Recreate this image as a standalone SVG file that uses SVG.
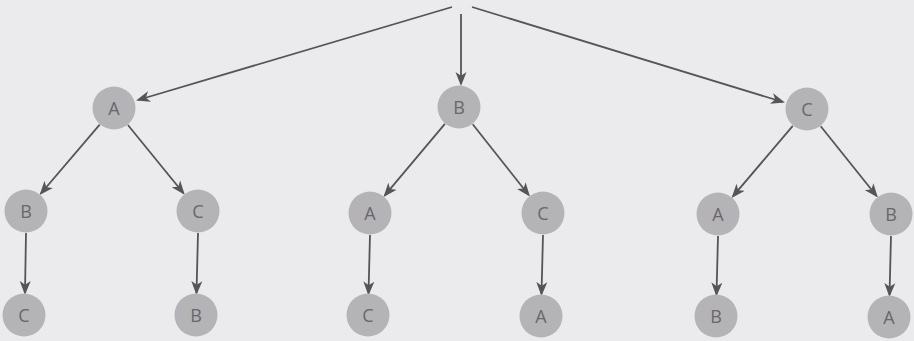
<svg xmlns="http://www.w3.org/2000/svg" width="914" height="341" viewBox="0 0 914 341">
<defs>
<marker id="arr" markerUnits="userSpaceOnUse" markerWidth="14" markerHeight="12" refX="12" refY="5.5" orient="auto" viewBox="0 0 14 11">
<path d="M0,0 L14,5.5 L0,11 L3.8,5.5 z" fill="#555558"/>
</marker>
<style>
.n circle{fill:#b4b4b6;}
.n text{font-family:"Open Sans","Liberation Sans",sans-serif;font-size:18px;fill:#68686a;text-anchor:middle;}
#edges line{stroke:#555558;stroke-width:1.8;marker-end:url(#arr);}
</style>
</defs>
<rect width="914" height="341" fill="#ebebed"/>
<g id="edges">
<line x1="452" y1="7" x2="138" y2="100"/>
<line x1="461" y1="14" x2="461" y2="84"/>
<line x1="472" y1="7" x2="783" y2="102"/>
<line x1="99.7" y1="124.7" x2="40.9" y2="193.5"/>
<line x1="127.9" y1="125" x2="183.5" y2="193.2"/>
<line x1="444.9" y1="123.8" x2="384.8" y2="195.4"/>
<line x1="472.7" y1="124.2" x2="528.7" y2="195"/>
<line x1="792.8" y1="125.8" x2="732.9" y2="196.4"/>
<line x1="820.7" y1="126.2" x2="876.6" y2="196"/>
<line x1="26" y1="233" x2="25" y2="293"/>
<line x1="198" y1="233" x2="196.5" y2="293"/>
<line x1="370" y1="235" x2="368.5" y2="293.5"/>
<line x1="543" y1="235" x2="541.5" y2="294"/>
<line x1="718" y1="236" x2="716.5" y2="294.5"/>
<line x1="891" y1="236" x2="889.5" y2="295"/>
</g>
<g id="n1A" class="n"><circle cx="114" cy="108" r="21.5"/><text x="114" y="114.5">A</text></g>
<g id="n1B" class="n"><circle cx="459" cy="107" r="21.5"/><text x="459" y="113.5">B</text></g>
<g id="n1C" class="n"><circle cx="807" cy="109" r="21.5"/><text x="807" y="115.5">C</text></g>
<g id="n2AB" class="n"><circle cx="26" cy="211" r="21.5"/><text x="26" y="217.5">B</text></g>
<g id="n2AC" class="n"><circle cx="198" cy="211" r="21.5"/><text x="198" y="217.5">C</text></g>
<g id="n2BA" class="n"><circle cx="370" cy="213" r="21.5"/><text x="370" y="219.5">A</text></g>
<g id="n2BC" class="n"><circle cx="543" cy="213" r="21.5"/><text x="543" y="219.5">C</text></g>
<g id="n2CA" class="n"><circle cx="718" cy="214" r="21.5"/><text x="718" y="220.5">A</text></g>
<g id="n2CB" class="n"><circle cx="891" cy="214" r="21.5"/><text x="891" y="220.5">B</text></g>
<g id="n3ABC" class="n"><circle cx="24" cy="315" r="21.5"/><text x="24" y="321.5">C</text></g>
<g id="n3ACB" class="n"><circle cx="196" cy="315" r="21.5"/><text x="196" y="321.5">B</text></g>
<g id="n3BAC" class="n"><circle cx="368" cy="315" r="21.5"/><text x="368" y="321.5">C</text></g>
<g id="n3BCA" class="n"><circle cx="541" cy="316" r="21.5"/><text x="541" y="322.5">A</text></g>
<g id="n3CAB" class="n"><circle cx="716" cy="316" r="21.5"/><text x="716" y="322.5">B</text></g>
<g id="n3CBA" class="n"><circle cx="889" cy="317" r="21.5"/><text x="889" y="323.5">A</text></g>
</svg>
